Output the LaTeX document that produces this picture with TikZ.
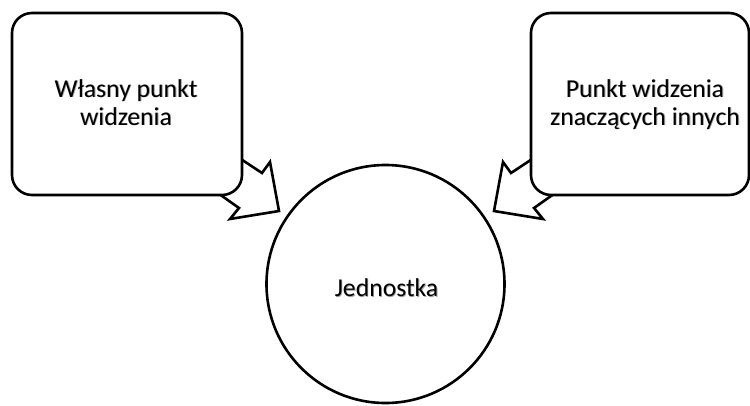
\documentclass[tikz,border=0pt]{standalone}
\usepackage{fontspec}
\setmainfont{Carlito}
\begin{document}
\begin{tikzpicture}[x=1pt,y=-1pt,
  outline/.style={draw=black, line width=2.6pt, line join=miter},
  blockarrow/.style={outline, fill=white},
  viewbox/.style={outline, fill=white, rounded corners=20pt},
  label/.style={font=\fontsize{25.7}{28}\selectfont, align=center, text=black, inner sep=0pt},
  shade/.style={label, text=black!35}
]
\useasboundingbox (0,0) rectangle (750,405);

% converging block arrows (tails tucked under the boxes)
\draw[blockarrow] (212,140) -- (262,173) -- (270,162) -- (279,211)
  -- (230,219) -- (239,208) -- (196.5,178) -- cycle;
\draw[blockarrow] (561,140) -- (511,173) -- (503,162) -- (494,211)
  -- (543,219) -- (534,208) -- (576.5,178) -- cycle;

% the two boxes
\draw[viewbox] (12,13) rectangle (242,195);
\draw[viewbox] (531,13) rectangle (749,195);
\coordinate (own) at (126,97);
\coordinate (others) at (645,97);

% the central circle
\node[outline, circle, minimum size=238pt, inner sep=0pt] (person) at (385.5,284) {};
\coordinate (personbase) at (386.5,296.5);

% texts with a soft drop shadow (yshift works in page direction: negative is down)
\node[shade, anchor=base] at ([xshift=0.9pt,yshift=-0.9pt]own) {Własny punkt};
\node[label, anchor=base] (ownt1) at (own) {Własny punkt};
\node[shade, anchor=base] at ([xshift=0.9pt,yshift=-28.9pt]own) {widzenia};
\node[label, anchor=base] (ownt2) at ([yshift=-28pt]own) {widzenia};
\node[shade, anchor=base] at ([xshift=0.9pt,yshift=-0.9pt]others) {Punkt widzenia};
\node[label, anchor=base] (otherst1) at (others) {Punkt widzenia};
\node[shade, anchor=base] at ([xshift=0.9pt,yshift=-28.9pt]others) {znaczących innych};
\node[label, anchor=base] (otherst2) at ([yshift=-28pt]others) {znaczących innych};
\node[shade, anchor=base] at ([xshift=0.9pt,yshift=-0.9pt]personbase) {Jednostka};
\node[label, anchor=base] (persont) at (personbase) {Jednostka};
\end{tikzpicture}
\end{document}
